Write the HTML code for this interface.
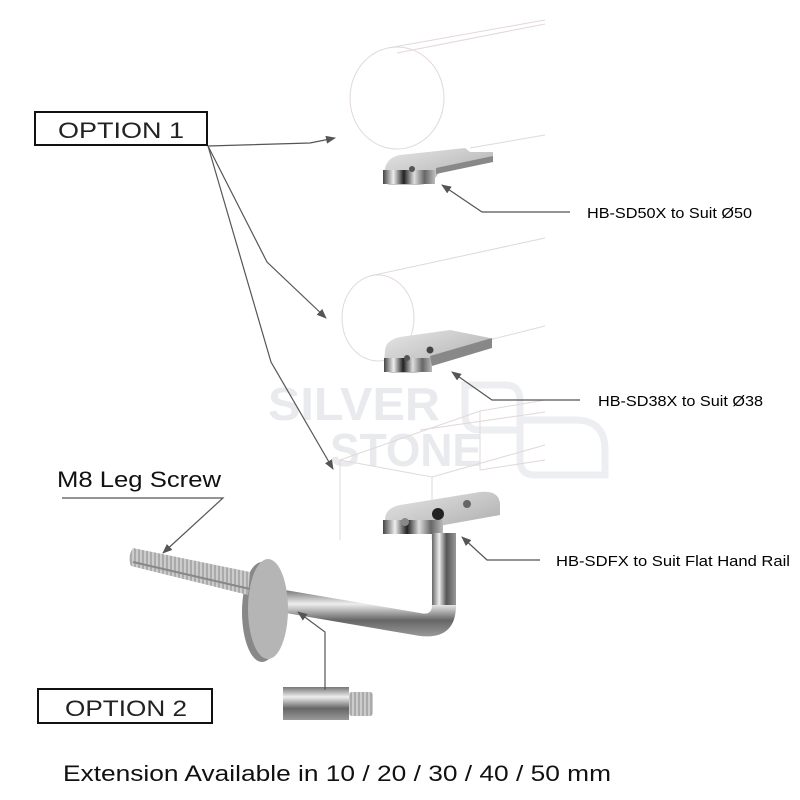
<!DOCTYPE html>
<html><head><meta charset="utf-8"><style>
html,body{margin:0;padding:0;background:#fff;}
svg{display:block;font-family:"Liberation Sans",sans-serif;}
</style></head><body>
<svg width="800" height="800" viewBox="0 0 800 800" xmlns="http://www.w3.org/2000/svg">
<defs>
<marker id="ah" markerWidth="10" markerHeight="8" refX="9" refY="4" orient="auto" markerUnits="userSpaceOnUse">
<path d="M0,0 L10,4 L0,8 Z" fill="#555"/></marker>
<linearGradient id="met" x1="0" x2="1" y1="0" y2="0">
<stop offset="0" stop-color="#444"/><stop offset="0.2" stop-color="#eee"/><stop offset="0.4" stop-color="#222"/><stop offset="0.6" stop-color="#ddd"/><stop offset="0.8" stop-color="#666"/><stop offset="1" stop-color="#bbb"/></linearGradient>
<linearGradient id="tubeV" x1="0" x2="1" y1="0" y2="0">
<stop offset="0" stop-color="#666"/><stop offset="0.3" stop-color="#eee"/><stop offset="0.6" stop-color="#555"/><stop offset="1" stop-color="#999"/></linearGradient>
<linearGradient id="tubeH" x1="0" x2="0" y1="0" y2="1">
<stop offset="0" stop-color="#777"/><stop offset="0.3" stop-color="#eee"/><stop offset="0.65" stop-color="#666"/><stop offset="1" stop-color="#999"/></linearGradient>
<linearGradient id="plate" x1="0" x2="1" y1="0" y2="1">
<stop offset="0" stop-color="#e6e6e6"/><stop offset="1" stop-color="#aaa"/></linearGradient>
<pattern id="thr" width="4" height="4" patternUnits="userSpaceOnUse">
<rect width="4" height="4" fill="#aaa"/><rect width="2" height="4" fill="#ccc"/></pattern>
</defs>

<!-- watermark -->
<g fill="#e9eaee" font-weight="bold" font-size="46">
<text x="268" y="420" textLength="172" lengthAdjust="spacingAndGlyphs">SILVER</text>
<text x="330" y="466" textLength="152" lengthAdjust="spacingAndGlyphs">STONE</text>
</g>
<g fill="none" stroke="#eceef1" stroke-width="7">
<path d="M465,385 h40 q15,0 15,15 v30 h-40 q-15,0 -15,-15 z"/>
<path d="M520,420 h55 q30,0 30,30 v25 h-70 q-15,0 -15,-15 z"/>
</g>

<!-- top rail -->
<g fill="none" stroke="#e2d8d8" stroke-width="1">
<ellipse cx="397" cy="98" rx="47" ry="51"/>
<line x1="388" y1="48" x2="545" y2="20"/>
<line x1="397" y1="53" x2="545" y2="24"/>
<line x1="470" y1="148" x2="545" y2="135"/>
</g>
<path d="M385,168 Q388,157 400,155 L465,148 L470,152 L493,152 L493,162 L440,170 Q435,183 420,185 L390,185 Q383,184 383,176 Z" fill="url(#plate)"/>
<rect x="383" y="170" width="52" height="14" fill="url(#met)"/>
<path d="M436,168 L493,156 L493,162 L436,174 Z" fill="#888"/>
<circle cx="412" cy="169" r="3" fill="#555"/>

<!-- second rail -->
<g fill="none" stroke="#e2d8d8" stroke-width="1">
<ellipse cx="378" cy="318" rx="36" ry="43"/>
<line x1="370" y1="276" x2="545" y2="238"/>
<line x1="405" y1="361" x2="545" y2="326"/>
</g>
<path d="M385,350 Q386,340 400,337 L450,330 L490,338 L490,348 L432,358 Q430,372 415,373 L392,373 Q384,372 384,364 Z" fill="url(#plate)"/>
<rect x="384" y="358" width="48" height="14" fill="url(#met)"/>
<path d="M430,356 L492,338 L492,348 L432,366 Z" fill="#888"/>
<circle cx="430" cy="350" r="3.5" fill="#444"/>
<circle cx="407" cy="358" r="3" fill="#555"/>

<!-- flat rail box -->
<g fill="none" stroke="#e2d8d8" stroke-width="1">
<polyline points="340,540 340,460 432,477 432,540"/>
<line x1="340" y1="460" x2="480" y2="411"/>
<line x1="432" y1="477" x2="545" y2="445"/>
<line x1="480" y1="411" x2="545" y2="400"/>
<line x1="480" y1="411" x2="480" y2="470"/>
<line x1="480" y1="470" x2="545" y2="460"/>
<line x1="420" y1="430" x2="545" y2="412"/>
</g>
<!-- bracket -->
<path d="M385,520 Q385,508 400,505 L480,492 Q500,490 500,505 L500,515 L400,533 L385,533 Z" fill="url(#plate)"/>
<rect x="383" y="520" width="60" height="14" fill="url(#met)"/>
<circle cx="438" cy="514" r="6" fill="#222"/>
<circle cx="405" cy="522" r="4" fill="#888"/>
<circle cx="467" cy="504" r="4" fill="#666"/>
<rect x="432" y="533" width="24" height="75" fill="url(#tubeV)"/>
<path d="M432,605 Q432,616 420,613 L285,590 L280,612 L420,636 Q456,640 456,605 Z" fill="url(#tubeH)"/>
<!-- disc -->
<ellipse cx="262" cy="612" rx="20" ry="50" fill="#888"/>
<ellipse cx="268" cy="609" rx="20" ry="50" fill="#b5b5b5"/>
<!-- screw -->
<path d="M133,548 L250,572 L248,595 L131,566 Q127,557 133,548 Z" fill="url(#thr)"/>
<path d="M133,562 L250,589" stroke="#888" stroke-width="2"/>

<!-- extension -->
<rect x="283" y="687" width="66" height="33" fill="url(#tubeH)"/>
<rect x="349" y="692" width="24" height="24" rx="3" fill="url(#thr)"/>

<!-- leaders -->
<g fill="none" stroke="#555" stroke-width="1.2">
<polyline points="208,146 310,143 335,138" marker-end="url(#ah)"/>
<polyline points="208,146 267,262 326,318" marker-end="url(#ah)"/>
<polyline points="208,146 271,362 333,469" marker-end="url(#ah)"/>
<polyline points="570,212 482,212 442,185" marker-end="url(#ah)"/>
<polyline points="580,400 492,400 452,372" marker-end="url(#ah)"/>
<polyline points="540,560 487,560 462,537" marker-end="url(#ah)"/>
<polyline points="62,498 223,498 163,553" marker-end="url(#ah)"/>
<polyline points="325,690 325,632 298,612" marker-end="url(#ah)"/>
</g>

<!-- boxes -->
<rect x="35" y="112" width="172" height="33" fill="none" stroke="#111" stroke-width="2"/>
<text x="58" y="138" font-size="22" fill="#222" textLength="126" lengthAdjust="spacingAndGlyphs">OPTION 1</text>
<rect x="38" y="689" width="174" height="34" fill="none" stroke="#111" stroke-width="2"/>
<text x="65" y="716" font-size="22" fill="#222" textLength="122" lengthAdjust="spacingAndGlyphs">OPTION 2</text>

<g font-size="15" fill="#000">
<text x="587" y="218" textLength="165" lengthAdjust="spacingAndGlyphs">HB-SD50X to Suit Ø50</text>
<text x="598" y="406" textLength="165" lengthAdjust="spacingAndGlyphs">HB-SD38X to Suit Ø38</text>
<text x="556" y="566" textLength="234" lengthAdjust="spacingAndGlyphs">HB-SDFX to Suit Flat Hand Rail</text>
</g>
<text x="57" y="487" font-size="22" fill="#111" textLength="164" lengthAdjust="spacingAndGlyphs">M8 Leg Screw</text>
<text x="63" y="781" font-size="22" fill="#111" textLength="548" lengthAdjust="spacingAndGlyphs">Extension Available in 10 / 20 / 30 / 40 / 50  mm</text>
</svg>
</body></html>
